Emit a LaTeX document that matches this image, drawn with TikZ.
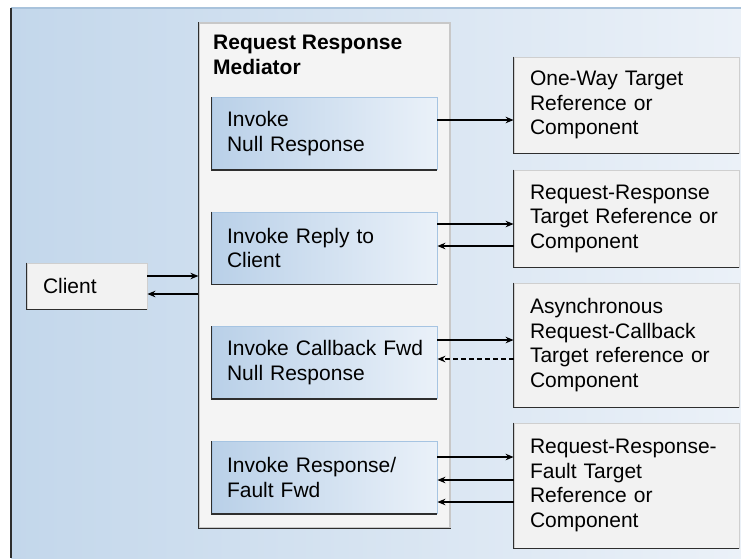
\documentclass[tikz,border=0pt]{standalone}
\usepackage{fontspec}
\setmainfont{Liberation Sans}
\usetikzlibrary{arrows.meta,positioning}
\definecolor{bgL}{HTML}{C3D7EB}
\definecolor{bgR}{HTML}{EBF1F8}
\definecolor{bgtop}{HTML}{A9C3DC}
\definecolor{medfill}{HTML}{F4F4F4}
\definecolor{medline}{HTML}{C8C8C8}
\definecolor{invL}{HTML}{B9D0E8}
\definecolor{invR}{HTML}{EAF1F9}
\definecolor{invline}{HTML}{A6C4E2}
\definecolor{tgtfill}{HTML}{F2F2F2}
\definecolor{tgtline}{HTML}{CFCFCF}
\definecolor{edgec}{HTML}{2E2E2E}
\newcommand{\boxfont}{\fontsize{21}{24.5}\selectfont}
\tikzset{
  medbox/.style={draw=medline, line width=1.2pt, fill=medfill, minimum width=251pt, minimum height=505pt, inner sep=0pt},
  invbox/.style={draw=invline, line width=0.8pt, left color=invL, right color=invR, minimum width=225pt, minimum height=72pt, text width=209pt, inner xsep=8pt, align=left, font=\boxfont, execute at begin node={\leftskip=7pt}},
  tgtbox/.style={draw=tgtline, line width=0.8pt, fill=tgtfill, minimum width=225pt, text width=209pt, inner xsep=8pt, align=left, font=\boxfont, execute at begin node={\leftskip=8pt}},
  titletext/.style={inner sep=0pt, align=left, font=\boxfont\bfseries},
  edge/.style={edgec, line width=1.5pt},
  link/.style={-{Stealth[length=8pt,width=6.5pt]}, line width=1.4pt},
  cbline/.style={link, dash pattern=on 5pt off 3pt},
}
\newcommand{\shadowedge}[1]{\draw[edge] (#1.north west) -- (#1.south west) -- (#1.south east);}
\begin{document}
\begin{tikzpicture}[x=1pt, y=-1pt]
  \useasboundingbox (0,0) rectangle (741,558);
  % backdrop
  \shade[left color=bgL, right color=bgR] (11,8) rectangle (741,558);
  \draw[bgtop, line width=1.5pt] (11,8) -- (741,8);
  \draw[edge] (11,8) -- (11,558);
  % mediator and its four invoke boxes
  \node[medbox] (med) at (324.5,275.5) {};
  \shadowedge{med}
  \node[titletext, anchor=north west] (medtitle) at (213,35) {Request Response\\Mediator};
  \node[invbox] (inv1) at (324.5,133.5) {Invoke\\Null Response};
  \node[invbox] (inv2) at (324.5,248) {Invoke Reply to\\Client};
  \node[invbox] (inv3) at (324.5,362.5) {Invoke Callback Fwd\\Null Response};
  \node[invbox] (inv4) at (324.5,477.5) {Invoke Response/\\Fault Fwd};
  \foreach \n in {inv1,inv2,inv3,inv4} {\shadowedge{\n}}
  % client
  \node[tgtbox, minimum width=120pt, text width=104pt, minimum height=46pt] (client) at (87,286) {Client};
  \shadowedge{client}
  % targets
  \node[tgtbox, minimum height=96pt] (tgt1) at (626.5,105) {One-Way Target\\Reference or\\Component};
  \node[tgtbox, minimum height=97pt] (tgt2) at (626.5,218.5) {Request-Response\\Target Reference or\\Component};
  \node[tgtbox, minimum height=124pt] (tgt3) at (626.5,345) {Asynchronous\\Request-Callback\\Target reference or\\Component};
  \node[tgtbox, minimum height=125pt] (tgt4) at (626.5,485.5) {Request-Response-\\Fault Target\\Reference or\\Component};
  \foreach \n in {tgt1,tgt2,tgt3,tgt4} {\shadowedge{\n}}
  % client <-> mediator
  \draw[link] (client.east |- 0,276) -- (med.west |- 0,276);
  \draw[link] (med.west |- 0,294) -- (client.east |- 0,294);
  % invoke -> target, replies back
  \draw[link] (inv1.east |- 0,120) -- (tgt1.west |- 0,120);
  \draw[link] (inv2.east |- 0,224) -- (tgt2.west |- 0,224);
  \draw[link] (tgt2.west |- 0,246) -- (inv2.east |- 0,246);
  \draw[link] (inv3.east |- 0,340) -- (tgt3.west |- 0,340);
  \draw[cbline] (tgt3.west |- 0,359) -- (inv3.east |- 0,359);
  \draw[link] (inv4.east |- 0,457) -- (tgt4.west |- 0,457);
  \foreach \yy in {480,502} \draw[link] (tgt4.west |- 0,\yy) -- (inv4.east |- 0,\yy);
\end{tikzpicture}
\end{document}
